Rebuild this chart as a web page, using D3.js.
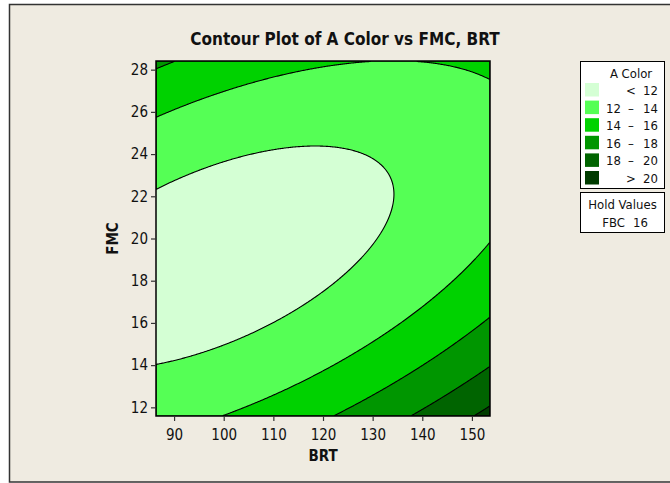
<!DOCTYPE html>
<html>
<head>
<meta charset="utf-8">
<script src="https://cdn.jsdelivr.net/npm/d3@7"></script>
<style>
  body { margin: 0; background: #fff; }
  text { font-family: "DejaVu Sans Condensed", "DejaVu Sans", sans-serif; fill: #111; }
</style>
</head>
<body>
<svg id="chart" width="670" height="483"></svg>
<script>
// Contour plot of A Color vs FMC, BRT (FBC held at 16)

// axis ranges and ticks
const brtRange = [86.36, 153.64];
const fmcRange = [11.59, 28.41];
const brtTicks = [90, 100, 110, 120, 130, 140, 150];
const fmcTicks = [12, 14, 16, 18, 20, 22, 24, 26, 28];

// fitted response surface (coded units: BRT center 120 step 20, FMC center 20 step 5)
const modelTerms = ['Constant', 'BRT', 'FMC', 'BRT*BRT', 'FMC*FMC', 'BRT*FMC'];
const modelCoefs = [11.45, 0.782, -0.465, 0.414, 1.25, -0.8175];
const brtCoding = [120, 20];
const fmcCoding = [20, 5];

// contour bands
const levels = [12, 14, 16, 18, 20];
const bandColours = ['#d4ffd4', '#55ff55', '#00d200', '#009600', '#006400', '#003c00'];
const bandLabels = [['', '<', '12'], ['12', '\u2013', '14'], ['14', '\u2013', '16'],
                    ['16', '\u2013', '18'], ['18', '\u2013', '20'], ['', '>', '20']];
const holdNames = ['FBC'];
const holdValues = [16];

// layout
const plot = { left: 156, right: 490, top: 61, bottom: 416 };

var svg = d3.select('svg#chart');

// background panel
svg.append('rect')
  .attr('x', 9.5).attr('y', 4.5)
  .attr('width', 680).attr('height', 477.5)
  .style('fill', '#efebe1')
  .style('stroke', '#333')
  .style('stroke-width', 1.5);

var x = d3.scaleLinear().domain(brtRange).range([plot.left, plot.right]);
var y = d3.scaleLinear().domain(fmcRange).range([plot.bottom, plot.top]);

function colorAt(brt, fmc) {
  var u = (brt - brtCoding[0]) / brtCoding[1];
  var v = (fmc - fmcCoding[0]) / fmcCoding[1];
  var t = [1, u, v, u * u, v * v, u * v];
  return d3.sum(t, (d, i) => d * modelCoefs[i]);
}

// sample the surface on a grid, one cell per pixel
const nx = plot.right - plot.left;
const ny = plot.bottom - plot.top;
var gx = d3.scaleLinear().domain([0, nx]).range([plot.left, plot.right]);
var gy = d3.scaleLinear().domain([0, ny]).range([plot.bottom, plot.top]);
var grid = new Array(nx * ny);
for (var j = 0; j < ny; j++) {
  for (var i = 0; i < nx; i++) {
    grid[j * nx + i] = colorAt(x.invert(gx(i + 0.5)), y.invert(gy(j + 0.5)));
  }
}

var contours = d3.contours().size([nx, ny]).thresholds(levels)(grid);

var path = d3.geoPath(d3.geoTransform({
  point: function (px, py) { this.stream.point(gx(px), gy(py)); }
}));

svg.append('clipPath').attr('id', 'clip')
  .append('rect')
  .attr('x', plot.left).attr('y', plot.top)
  .attr('width', plot.right - plot.left).attr('height', plot.bottom - plot.top);

var area = svg.append('g').attr('clip-path', 'url(#clip)');

area.append('rect')
  .attr('x', plot.left).attr('y', plot.top)
  .attr('width', plot.right - plot.left).attr('height', plot.bottom - plot.top)
  .style('fill', bandColours[0]);

area.selectAll('path.band')
  .data(contours)
  .enter()
  .append('path')
  .attr('class', 'band')
  .attr('d', path)
  .style('fill', (d, i) => bandColours[i + 1])
  .style('stroke', '#000')
  .style('stroke-width', 1.1)
  .style('stroke-linejoin', 'round');

// frame
svg.append('rect')
  .attr('x', plot.left).attr('y', plot.top)
  .attr('width', plot.right - plot.left).attr('height', plot.bottom - plot.top)
  .style('fill', 'none').style('stroke', '#000').style('stroke-width', 1.5);

// axes
var xAxis = svg.append('g')
  .attr('transform', 'translate(0,' + plot.bottom + ')')
  .call(d3.axisBottom(x).tickValues(brtTicks).tickSize(5).tickPadding(8));
var yAxis = svg.append('g')
  .attr('transform', 'translate(' + plot.left + ',0)')
  .call(d3.axisLeft(y).tickValues(fmcTicks).tickSize(5).tickPadding(3));
[xAxis, yAxis].forEach(function (a) {
  a.select('.domain').remove();
  a.selectAll('line').style('stroke', '#333').style('stroke-width', 1.2);
  a.selectAll('text').style('font-size', '15px').style('fill', '#111')
    .style('font-family', '"DejaVu Sans Condensed", "DejaVu Sans", sans-serif');
});

// titles
svg.append('text')
  .attr('x', 345).attr('y', 45)
  .attr('text-anchor', 'middle')
  .style('font-size', '17px').style('font-weight', 'bold')
  .text('Contour Plot of A Color vs FMC, BRT');

svg.append('text')
  .attr('x', (plot.left + plot.right) / 2).attr('y', 461)
  .attr('text-anchor', 'middle')
  .style('font-size', '15px').style('font-weight', 'bold')
  .text('BRT');

svg.append('text')
  .attr('transform', 'translate(118,' + ((plot.top + plot.bottom) / 2) + ') rotate(-90)')
  .attr('text-anchor', 'middle')
  .style('font-size', '15px').style('font-weight', 'bold')
  .text('FMC');

// legend
var legend = svg.append('g').attr('transform', 'translate(580,61)');
legend.append('rect')
  .attr('x', 0.5).attr('y', 0.5).attr('width', 84).attr('height', 127)
  .style('fill', '#fff').style('stroke', '#000');
legend.append('text')
  .attr('x', 51).attr('y', 17)
  .attr('text-anchor', 'middle')
  .style('font-size', '13px')
  .text('A Color');

var rows = legend.selectAll('g.row')
  .data(bandColours)
  .enter()
  .append('g')
  .attr('class', 'row')
  .attr('transform', (d, i) => 'translate(0,' + (22 + i * 17.6) + ')');

rows.append('rect')
  .attr('x', 5).attr('y', 0).attr('width', 14).attr('height', 13.5)
  .style('fill', d => d);
rows.append('text')
  .attr('x', 41).attr('y', 12).attr('text-anchor', 'end')
  .style('font-size', '13px')
  .text((d, i) => bandLabels[i][0]);
rows.append('text')
  .attr('x', 51).attr('y', 12).attr('text-anchor', 'middle')
  .style('font-size', '13px')
  .text((d, i) => bandLabels[i][1]);
rows.append('text')
  .attr('x', 78).attr('y', 12).attr('text-anchor', 'end')
  .style('font-size', '13px')
  .text((d, i) => bandLabels[i][2]);

var hold = svg.append('g').attr('transform', 'translate(580,192)');
hold.append('rect')
  .attr('x', 0.5).attr('y', 0.5).attr('width', 84).attr('height', 40)
  .style('fill', '#fff').style('stroke', '#000');
hold.append('text')
  .attr('x', 42.5).attr('y', 17).attr('text-anchor', 'middle')
  .style('font-size', '13px')
  .text('Hold Values');
var hv = hold.selectAll('g.hv')
  .data(holdNames)
  .enter()
  .append('g')
  .attr('class', 'hv')
  .attr('transform', (d, i) => 'translate(0,' + (35 + i * 15) + ')');
hv.append('text')
  .attr('x', 45).attr('text-anchor', 'end')
  .style('font-size', '13px')
  .text(d => d);
hv.append('text')
  .attr('x', 53).attr('text-anchor', 'start')
  .style('font-size', '13px')
  .text((d, i) => holdValues[i]);
</script>
</body>
</html>
